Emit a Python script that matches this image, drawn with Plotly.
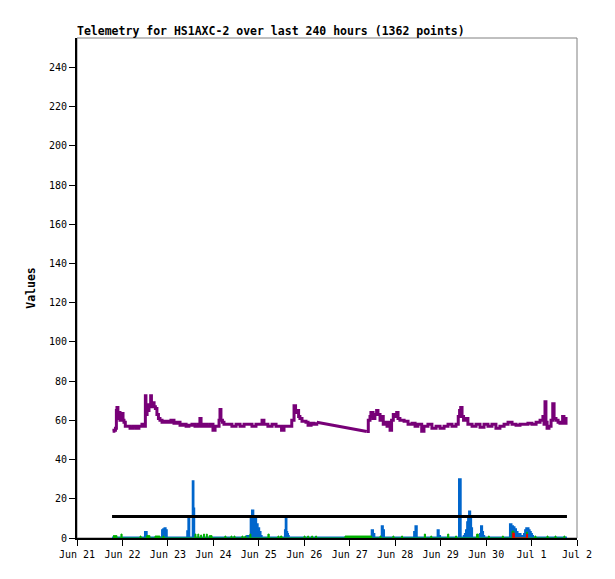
import datetime as dt
import plotly.graph_objects as go

BASE = dt.datetime(2023, 6, 21)

# purple series (hours since Jun 21 00:00, value)
purple_h = [18.8, 19.5, 20.3, 20.8, 21.1, 21.6, 22.2, 22.7, 23.2, 23.8, 24.3, 24.8, 25.5, 26.9, 28.0, 29.6, 31.2, 32.7,
            34.3, 35.4, 36.1, 36.4, 37.0, 37.5, 38.0, 38.9, 39.3, 39.9, 40.7, 41.4, 42.2, 43.0, 43.8, 44.9, 46.5, 48.0,
            49.6, 51.2, 52.8, 54.4, 56.0, 57.6, 59.1, 60.7, 62.3, 63.9, 64.9, 65.5, 67.1, 68.6, 70.2, 71.8, 72.9, 74.4,
            75.0, 75.5, 76.0, 76.8, 77.6, 79.7, 81.8, 84.0, 86.1, 88.2, 90.3, 92.4, 94.5, 97.7, 98.7, 100.8, 103.0,
            105.1, 108.0, 109.3, 111.4, 113.4, 114.6, 115.4, 116.2, 117.0, 117.7, 118.8, 120.9, 122.0, 123.6, 125.1,
            126.6, 153.0, 153.8, 154.7, 155.2, 156.3, 157.3, 158.2, 158.9, 160.0, 160.8, 161.7, 162.6, 163.7, 164.5,
            165.3, 166.1, 167.0, 167.9, 168.8, 169.5, 170.5, 172.7, 174.8, 176.9, 178.5, 180.0, 182.0, 183.2, 185.3,
            187.4, 189.6, 191.7, 193.8, 195.9, 198.0, 200.1, 201.3, 202.0, 202.6, 203.3, 204.1, 204.9, 206.4, 208.6,
            210.7, 212.8, 214.9, 217.0, 219.1, 221.2, 223.3, 225.5, 227.6, 229.7, 231.8, 233.9, 236.0, 238.1, 240.2,
            242.4, 244.5, 246.0, 246.6, 247.1, 247.6, 248.2, 249.2, 250.3, 251.2, 251.9, 252.9, 254.0, 255.0, 256.4,
            257.1, 257.7, 258.2, 259.0]
purple_v = [54.5, 55, 56, 65, 66.5, 61, 64, 60, 62, 63.5, 60, 59, 57, 57, 56, 57, 56, 57,
            58, 57, 72.5, 63, 68, 65, 67, 72.5, 67, 69, 67, 66, 63, 61, 60, 59, 59.5, 59,
            60, 58.5, 59, 57.5, 58, 57, 57.5, 58, 57, 58, 61, 57, 58, 57, 58, 55, 57, 57,
            60, 65.5, 60, 59, 58, 58, 57, 58, 57, 58, 58, 57, 58, 60, 58, 57, 58,
            57, 55, 57, 57, 60, 67.5, 64, 65, 62, 61, 59.5, 59, 57.5, 58.5, 58,
            59, 54.3, 60, 62, 64, 61, 63, 65, 63, 60, 62, 58, 59, 57, 59,
            55, 60, 63, 62, 64, 61, 60, 59.5, 58, 58.5, 57, 58, 54.5, 57, 58,
            56, 57, 56, 57, 58, 57, 58, 62, 65, 66.5, 62, 60, 61, 58, 57,
            58, 56.5, 58, 57, 58, 56, 57, 58, 59, 58, 57.5, 58, 58, 58.5, 58,
            59, 60, 62, 58, 69.5, 59, 56, 57, 60, 68.5, 61, 60, 59, 58.5, 62,
            60, 58.5, 61, 61]
purple_gap = (126.6, 153.0)  # data gap: drawn as a straight segment

# blue series (step values)
blue_h = [18.5, 35.9, 36.8, 44.9, 45.5, 46.2, 46.8, 47.4, 58.2, 58.8, 59.3, 61.1, 61.5, 61.9, 89.8, 90.8, 91.7, 92.4,
          93.1, 93.8, 94.6, 95.4, 96.2, 96.9, 97.5, 109.8, 110.2, 110.6, 111.0, 111.4, 111.8, 155.6, 156.3, 157.0,
          160.9, 161.5, 162.1, 178.0, 178.7, 179.4, 190.4, 191.0, 191.7, 201.7, 202.6, 204.2, 204.8, 205.4, 206.0,
          206.5, 207.0, 207.6, 208.1, 208.6, 212.8, 213.3, 213.9, 214.4, 215.0, 228.6, 229.4, 230.2, 231.0, 231.8,
          232.6, 233.4, 234.2, 235.0, 236.0, 236.6, 237.2, 237.8, 238.4, 239.0, 239.6, 240.2, 240.8, 258.7]
blue_v = [0, 3, 0, 4, 4.5, 5, 4, 0, 3.5, 11, 0, 29, 15, 0, 1, 0, 11, 14,
          11, 10, 7, 5, 3, 1, 0, 4, 11, 3, 2, 1, 0, 4, 2, 0,
          6, 4, 0, 3, 6, 0, 4, 1, 0, 30, 0, 1, 2, 4, 8,
          11, 13.5, 10, 5, 0, 2, 6, 3, 1, 0, 7, 6, 5.5, 4.5, 3,
          2, 2, 1, 0, 2, 4, 5, 5, 4, 3, 2, 1, 0, 0]

# green events: start hour, end hour, value
green_start = [19.0, 23.2, 33.3, 36.8, 41.2, 45.4, 62.3, 63.8, 65.3, 66.8, 68.3, 69.8, 78.1, 81.3, 82.9, 87.1, 88.7,
               91.3, 100.8, 106.1, 107.5, 119.9, 121.8, 123.9, 126.0, 141.5, 160.0, 166.8, 171.4, 183.4, 186.8,
               195.7, 199.9, 211.0, 217.2, 224.6, 229.7, 237.4, 241.8, 248.2, 252.4, 257.1]
green_end = [21.1, 23.8, 33.8, 38.5, 43.8, 45.9, 62.8, 64.3, 65.8, 67.3, 68.8, 71.3, 78.6, 81.8, 83.4, 87.6, 89.2,
             91.8, 101.5, 106.6, 108.2, 120.4, 122.3, 124.4, 126.5, 155.6, 160.5, 167.3, 171.9, 184.0, 187.3,
             196.3, 200.4, 211.9, 217.7, 225.1, 230.7, 237.9, 242.3, 248.7, 252.9, 257.6]
green_v = [1.2, 2, 1, 1.2, 1, 1, 2, 2, 1.5, 2, 2, 1.2, 1, 1, 1, 1, 1,
           2, 2, 1, 1, 1, 1, 1, 1, 1, 1, 1, 1, 2, 1,
           2, 1, 2, 1, 1, 3.5, 3, 1, 1, 1, 1]

# red events
red_start = [229.8, 237.4]
red_end = [230.9, 237.9]
red_v = [2.5, 2]

limit_h = [18.5, 258.7]
limit_v = [11, 11]


def t(hs):
    return [BASE + dt.timedelta(hours=h) for h in hs]


def steps(starts, ends, vals):
    xs, ys = [], []
    for s, e, v in zip(starts, ends, vals):
        xs += [s, e]
        ys += [v, 0]
    return xs, ys


PURPLE = "#770077"
BLUE = "#0066cc"
GREEN = "#00b000"
fig = go.Figure()
fig.add_trace(go.Scatter(x=t([blue_h[0], blue_h[-1]]), y=[0, 0], mode="lines",
                         line=dict(color=BLUE, width=3)))
fig.add_trace(go.Scatter(x=t(blue_h), y=blue_v, mode="lines", line=dict(color=BLUE, width=2, shape="hv"),
                         fill="tozeroy", fillcolor=BLUE))
gx, gy = steps(green_start, green_end, green_v)
fig.add_trace(go.Scatter(x=t(gx), y=gy, mode="lines", line=dict(color=GREEN, width=1, shape="hv"),
                         fill="tozeroy", fillcolor=GREEN))
rx, ry = steps(red_start, red_end, red_v)
fig.add_trace(go.Scatter(x=t(rx), y=ry, mode="lines", line=dict(color="#ee0000", width=1, shape="hv"),
                         fill="tozeroy", fillcolor="#ee0000"))
fig.add_trace(go.Scatter(x=t(limit_h), y=limit_v, mode="lines", line=dict(color="black", width=3)))

i0 = purple_h.index(purple_gap[0])
i1 = purple_h.index(purple_gap[1])
for a, b, shp in [(0, i0 + 1, "hv"), (i0, i1 + 1, "linear"), (i1, len(purple_h), "hv")]:
    fig.add_trace(go.Scatter(x=t(purple_h[a:b]), y=purple_v[a:b], mode="lines",
                             line=dict(color=PURPLE, width=3, shape=shp)))

font = "DejaVu Sans Mono"
fig.update_layout(
    width=615, height=579, showlegend=False,
    margin=dict(l=77, r=38, t=38, b=41, autoexpand=False),
    paper_bgcolor="white", plot_bgcolor="white",
    font=dict(family=font, size=10, color="black"),
    title=dict(text="<b>Telemetry for HS1AXC-2 over last 240 hours (1362 points)</b>",
               x=0, xanchor="left", xref="paper", y=1 - 31 / 579, yanchor="middle", yref="container",
               font=dict(family=font, size=11.5, color="black")),
    shapes=[dict(type="rect", xref="paper", yref="paper", x0=0, x1=1, y0=0, y1=1,
                 line=dict(color="#808080", width=1), layer="below")],
)
fig.update_xaxes(type="date", range=[BASE, BASE + dt.timedelta(days=11)], dtick=86400000,
                 tick0=BASE, tickformat="%b %-d", showgrid=False, zeroline=False, automargin=False,
                 showline=True, linecolor="black", linewidth=2, ticks="outside", ticklen=6,
                 tickcolor="black", tickwidth=1)
fig.update_yaxes(range=[0, 255], tickvals=list(range(0, 241, 20)), showgrid=False, automargin=False,
                 zeroline=False, showline=True, linecolor="black", linewidth=2, ticks="outside", ticklen=6,
                 tickcolor="black", tickwidth=1,
                 title=dict(text="<b>Values</b>", standoff=11, font=dict(family=font, size=11.5)))

fig.write_html("out.html", config={"displayModeBar": False},
               post_script="document.body.style.margin='0';")
